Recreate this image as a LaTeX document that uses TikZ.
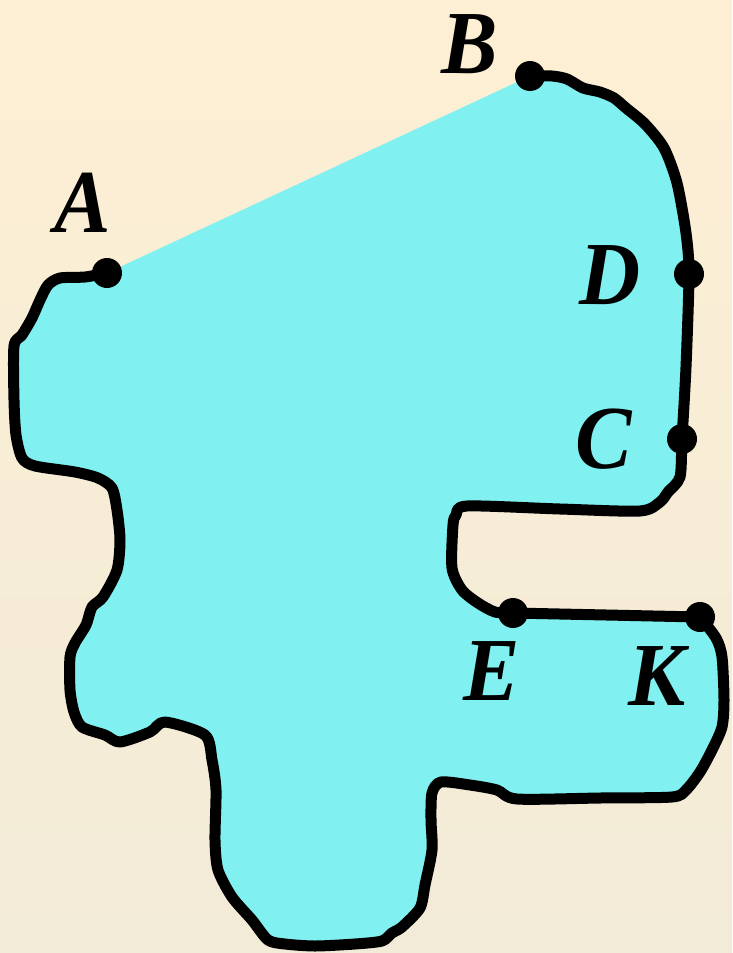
\documentclass[tikz,border=0pt]{standalone}
\usepackage{fontspec}
\setmainfont{Liberation Serif}
\definecolor{bgtop}{RGB}{253,239,211}
\definecolor{bgbot}{RGB}{242,235,216}
\definecolor{fillc}{RGB}{128,240,241}
\tikzset{
  outline/.style={line width=11pt, line join=round, line cap=round, draw=black},
  pointdot/.style={fill=black},
  lbl/.style={inner sep=0pt, xscale=0.94, font=\fontsize{90}{90}\selectfont\bfseries\itshape}
}
\begin{document}
\begin{tikzpicture}[x=1pt,y=-1pt]
\shade[top color=bgtop, bottom color=bgbot] (0,0) rectangle (732,953);
\useasboundingbox (0,0) rectangle (732,953);
\coordinate (A) at (107,273);
\coordinate (B) at (530,76);
\coordinate (C) at (682,439);
\coordinate (D) at (689,274);
\coordinate (E) at (513,613);
\coordinate (K) at (700,617);
\def\partone{(A) (85,277) (60,278) (48,285) (40,300) (32,318) (22,335) (14,346)
 (14,400) (16,435) (22,458) (35,466) (75,472) (98,478) (112,488) (117,510)
 (120,540) (117,570) (103,597) (92,607) (86,625) (75,643) (70,657) (70,690)
 (74,712) (82,727) (105,735) (120,742) (150,732) (165,722) (205,735) (212,760)
 (216,790) (215,840) (218,870) (232,897) (252,920) (268,940) (285,944) (315,946)
 (355,944) (382,941) (392,933) (402,927) (420,908) (425,885) (432,850) (431,820)
 (432,793) (441,782) (470,785) (497,790) (517,799) (600,798) (672,797) (686,790)
 (700,772) (712,750) (722,727) (724,700) (722,657) (716,638) (K)}
\def\parttwo{(E) (495,612) (478,603) (462,590) (452,568) (453,525) (456,515)
 (467,506) (560,509) (640,511) (660,502) (668,492) (680,477) (C) (686,367)
 (D) (686,233) (677,183) (664,148) (645,124) (626,108) (614,98) (600,92)
 (583,88) (567,79) (552,76) (B)}
\fill[fillc] plot[smooth, tension=0.45] coordinates {\partone} -- plot[smooth, tension=0.45] coordinates {\parttwo} -- cycle;
\draw[outline] plot[smooth, tension=0.45] coordinates {\partone} -- plot[smooth, tension=0.45] coordinates {\parttwo};
\foreach \p in {A,B,C,D,E,K} \fill[pointdot] (\p) circle (15pt);
\node[lbl] (lA) at (83,203) {A};
\node[lbl] (lB) at (470,44) {B};
\node[lbl] (lD) at (610,275) {D};
\node[lbl] (lC) at (604,439) {C};
\node[lbl] (lE) at (492,671) {E};
\node[lbl] (lK) at (657,676) {К};
\end{tikzpicture}
\end{document}
